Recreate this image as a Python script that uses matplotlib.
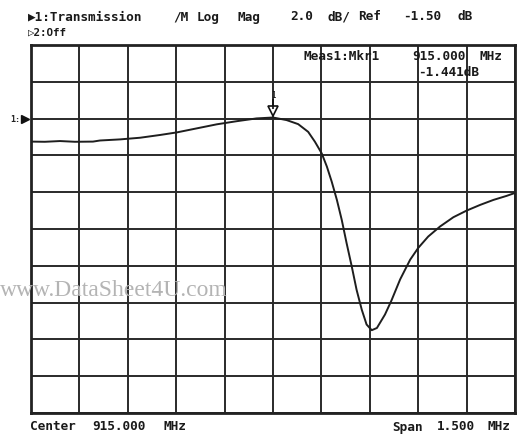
import matplotlib
matplotlib.use("Agg")
import matplotlib.pyplot as plt
import matplotlib.transforms as mtransforms
import numpy as np

# ---- data ----
freq_mhz = [914.250, 914.293, 914.340, 914.386, 914.442, 914.464, 914.526, 914.588,
            914.650, 914.702, 914.764, 914.826, 914.888, 914.949, 915.000, 915.042,
            915.078, 915.109, 915.130, 915.151, 915.167, 915.182, 915.198, 915.213,
            915.228, 915.244, 915.259, 915.275, 915.290, 915.306, 915.322, 915.347,
            915.367, 915.394, 915.425, 915.450, 915.481, 915.518, 915.559, 915.600,
            915.642, 915.683, 915.724, 915.750]
trans_db = [-2.75, -2.76, -2.72, -2.76, -2.75, -2.69, -2.63, -2.54,
            -2.39, -2.25, -2.03, -1.81, -1.64, -1.49, -1.441, -1.58,
            -1.80, -2.22, -2.76, -3.39, -4.11, -4.93, -5.92, -7.00,
            -8.26, -9.53, -10.80, -11.88, -12.69, -13.00, -12.88, -12.15,
            -11.39, -10.24, -9.17, -8.53, -7.91, -7.36, -6.86, -6.50,
            -6.19, -5.92, -5.70, -5.54]

center_mhz = 915.000
span_mhz = 1.500
scale_db = 2.0
ref_db = -1.50
ref_pos_from_top = 2
n_div = 10
marker_freq = 915.000
marker_db = -1.441

header1 = ["\u25b61:Transmission", "/M", "Log", "Mag", "2.0", "dB/", "Ref", "-1.50", "dB"]
header1_x = [28, 173, 197, 237, 290, 328, 358, 403, 457]
header2 = "\u25b72:Off"
meas_words = ["Meas1:Mkr1", "915.000", "MHz"]
meas_x = [303, 412, 480]
meas_val = "-1.441dB"
footer_words = ["Center", "915.000", "MHz", "Span", "1.500", "MHz"]
footer_x = [30, 92, 163, 392, 437, 488]

W, H = 517, 434
fig = plt.figure(figsize=(W / 100, H / 100), dpi=100)
fig.patch.set_facecolor("white")

L, R, T, B = 31, 515, 45, 413
ax = fig.add_axes([L / W, 1 - B / H, (R - L) / W, (B - T) / H])

x0 = center_mhz - span_mhz / 2
x1 = center_mhz + span_mhz / 2
ytop = ref_db + ref_pos_from_top * scale_db
ybot = ytop - n_div * scale_db
ax.set_xlim(x0, x1)
ax.set_ylim(ybot, ytop)
ax.set_xticks(np.linspace(x0, x1, n_div + 1))
ax.set_yticks(np.linspace(ybot, ytop, n_div + 1))
ax.tick_params(length=0, labelbottom=False, labelleft=False)
ax.grid(True, color="#2a2a2a", linewidth=1.4)
for s in ax.spines.values():
    s.set_linewidth(2.0)
    s.set_color("#222222")

ax.plot(freq_mhz, trans_db, color="#1e1e1e", linewidth=1.4, zorder=3,
        solid_joinstyle="round", solid_capstyle="round")

# reference position marker on left edge
ax.plot([x0], [ref_db], marker=">", color="#111111", markersize=6,
        clip_on=False, zorder=5,
        transform=mtransforms.offset_copy(ax.transData, fig=fig, x=-4, y=0, units="points"))
fig.text(10 / W, 1 - 119 / H, "1:", fontsize=6, family="DejaVu Sans Mono",
         fontweight="bold", va="center", ha="left", color="#222222")

# marker 1 symbol
tr_tri = mtransforms.offset_copy(ax.transData, fig=fig, x=0, y=4.5, units="points")
ax.plot([marker_freq], [marker_db], marker="v", markersize=7, markerfacecolor="white",
        markeredgecolor="#111111", markeredgewidth=1.2, transform=tr_tri, zorder=6,
        clip_on=False)
tr_stem = mtransforms.offset_copy(ax.transData, fig=fig, x=0, y=10, units="points")
ax.plot([marker_freq], [marker_db], marker="|", markersize=7, color="#111111",
        markeredgewidth=1.2, transform=tr_stem, zorder=6, clip_on=False)
tr_lab = mtransforms.offset_copy(ax.transData, fig=fig, x=0, y=16, units="points")
ax.text(marker_freq, marker_db, "1", transform=tr_lab, fontsize=5.5,
        family="DejaVu Sans Mono", ha="center", va="center", color="#111111")

mono = dict(family=["DejaVu Sans Mono", "DejaVu Sans"], fontweight="bold",
            fontsize=9.2, color="#1a1a1a", va="center", ha="left")

def ptext(x, y, s, **kw):
    d = dict(mono)
    d.update(kw)
    fig.text(x / W, 1 - y / H, s, **d)

# header
for x, s in zip(header1_x, header1):
    ptext(x, 17, s)
ptext(28, 33, header2, fontsize=7.8)

# measurement readout
for x, s in zip(meas_x, meas_words):
    ptext(x, 57, s)
ptext(418, 73, meas_val)

# footer
for x, s in zip(footer_x, footer_words):
    ptext(x, 427, s)

# watermark
fig.text(228 / W, 1 - 290 / H, "www.DataSheet4U.com", fontsize=17,
         family="Liberation Serif", color="#b4b4b4", ha="right", va="center",
         zorder=10)

fig.savefig("out.png", dpi=100, facecolor="white")
